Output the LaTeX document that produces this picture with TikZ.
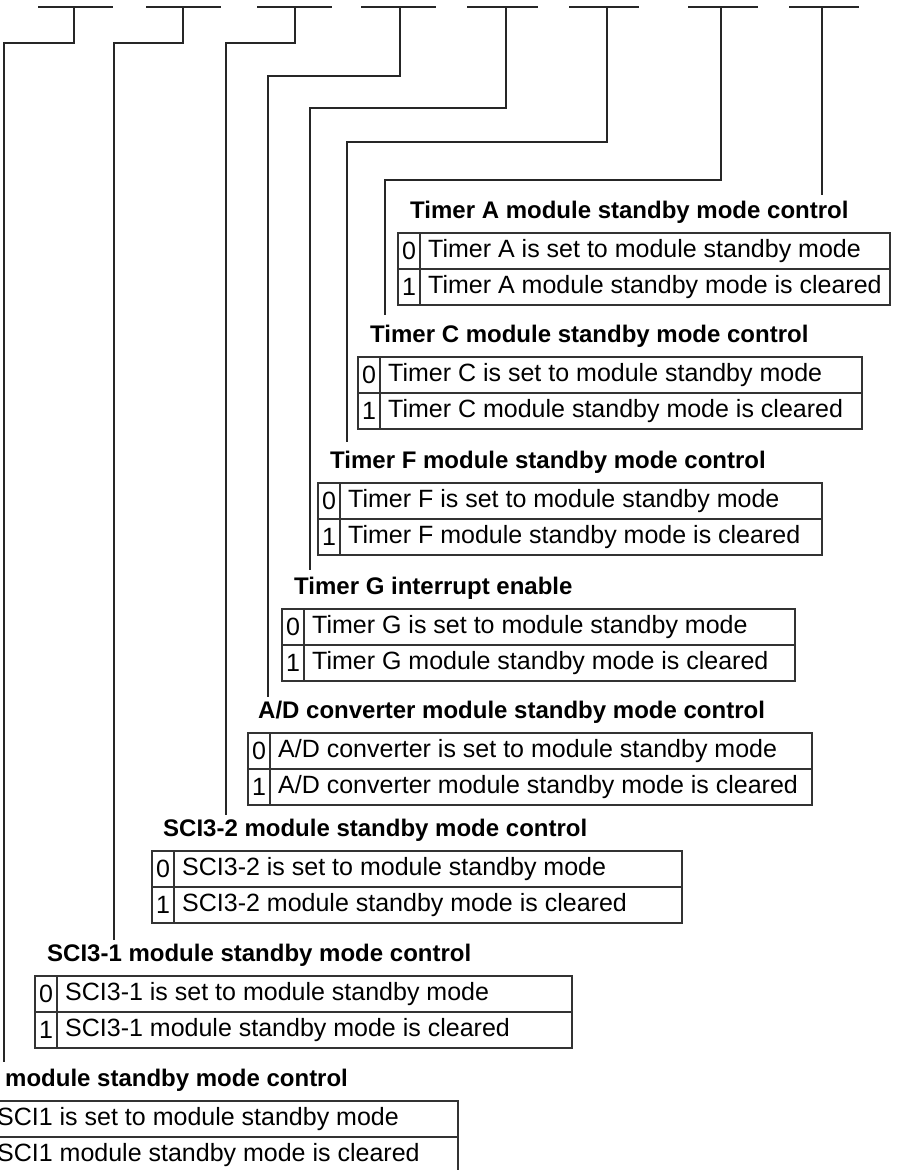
\documentclass[tikz,border=0pt]{standalone}
\usepackage{fontspec}
\setmainfont{Liberation Sans}
\tikzset{
  conn/.style={line width=1.1pt, draw=black!85},
  tab/.style={line width=1.1pt, draw=black!80},
  ttl/.style={font=\fontsize{24}{28}\selectfont\bfseries, inner sep=0pt, anchor=west},
  txt/.style={font=\fontsize{25}{28}\selectfont, inner sep=0pt, anchor=west},
  num/.style={font=\fontsize{25}{28}\selectfont, inner sep=0pt}
}
\newcommand{\regsec}[8]{%
  \node[ttl] (#1t) at (#5,#2) {#6};
  \draw[tab] (#3,#2+21) rectangle (#4,#2+93);
  \draw[tab] (#3,#2+57) -- (#4,#2+57);
  \draw[tab] (#3+22,#2+21) -- (#3+22,#2+93);
  \node[num] (#1n0) at (#3+11,#2+39) {0};
  \node[num] (#1n1) at (#3+11,#2+75) {1};
  \node[txt] (#1r0) at (#3+30,#2+39) {#7};
  \node[txt] (#1r1) at (#3+30,#2+75) {#8};
}
\begin{document}
\begin{tikzpicture}[x=1pt,y=-1pt]
\useasboundingbox (0,0) rectangle (897,1170);
\clip (0,0) rectangle (897,1170);
\fill[white] (0,0) rectangle (897,1170);
% top bit bars
\foreach \n/\a/\b in {1/38/113,2/146/221,3/257/332,4/361/436,5/467/538,6/569/639,7/688/758,8/789/859}{
  \draw[conn] (\a,7) -- (\b,7);
}
% bit stems (top points)
\coordinate (b1) at (74,7);
\coordinate (b2) at (183,7);
\coordinate (b3) at (295,7);
\coordinate (b4) at (400,7);
\coordinate (b5) at (506,7);
\coordinate (b6) at (607,7);
\coordinate (b7) at (721,7);
\coordinate (b8) at (822,7);
% connector ends
\coordinate (e8) at (822,195);
\coordinate (e7) at (385,315);
\coordinate (e6) at (347,442);
\coordinate (e5) at (310,570);
\coordinate (e4) at (268,697);
\coordinate (e3) at (226,815);
\coordinate (e2) at (114,940);
\coordinate (e1) at (4,1062);

\draw[conn] (b8) -- (e8);
\draw[conn] (b7) -- (721,180) -| (e7);
\draw[conn] (b6) -- (607,142) -| (e6);
\draw[conn] (b5) -- (506,108) -| (e5);
\draw[conn] (b4) -- (400,76) -| (e4);
\draw[conn] (b3) -- (295,43) -| (e3);
\draw[conn] (b2) -- (183,43) -| (e2);
\draw[conn] (b1) -- (74,43) -| (e1);

\regsec{a}{212}{398}{890}{410}{Timer A module standby mode control}{Timer A is set to module standby mode}{Timer A module standby mode is cleared}
\regsec{c}{336}{358}{862}{370}{Timer C module standby mode control}{Timer C is set to module standby mode}{Timer C module standby mode is cleared}
\regsec{f}{462}{318}{822}{330}{Timer F module standby mode control}{Timer F is set to module standby mode}{Timer F module standby mode is cleared}
\regsec{g}{588}{282}{795}{294}{Timer G interrupt enable}{Timer G is set to module standby mode}{Timer G module standby mode is cleared}
\regsec{ad}{712}{248}{812}{258}{A/D converter module standby mode control}{A/D converter is set to module standby mode}{A/D converter module standby mode is cleared}
\regsec{sb}{830}{152}{682}{163}{SCI3-2 module standby mode control}{SCI3-2 is set to module standby mode}{SCI3-2 module standby mode is cleared}
\regsec{sa}{955}{35}{572}{47}{SCI3-1 module standby mode control}{SCI3-1 is set to module standby mode}{SCI3-1 module standby mode is cleared}
\regsec{s}{1080}{-33}{458}{-55}{SCI1 module standby mode control}{SCI1 is set to module standby mode}{SCI1 module standby mode is cleared}
\end{tikzpicture}
\end{document}
